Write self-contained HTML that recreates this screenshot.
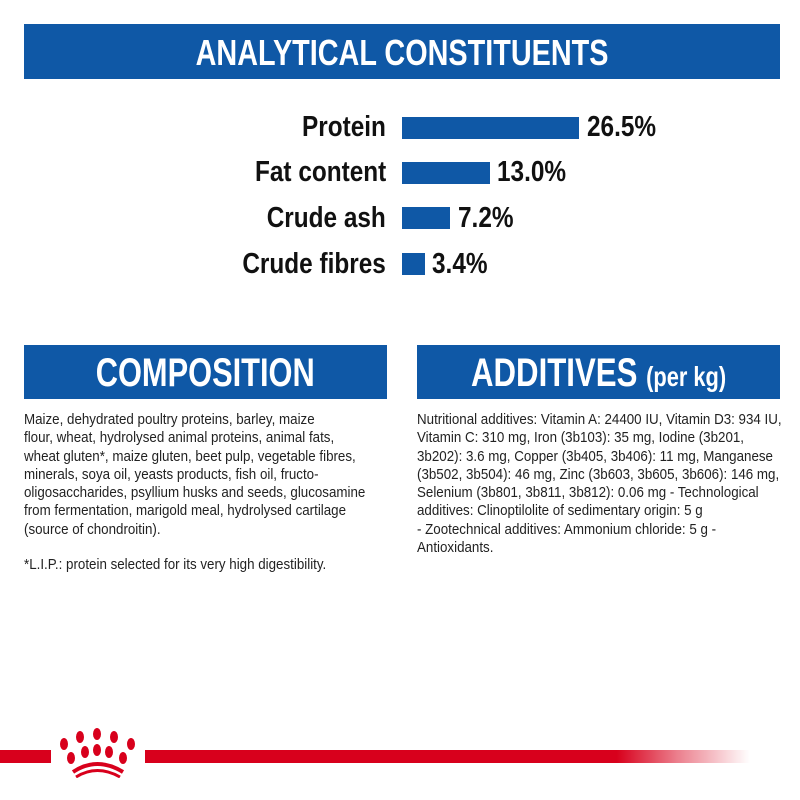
<!DOCTYPE html>
<html><head><meta charset="utf-8"><style>
body{margin:0;width:800px;height:800px;background:#fff;position:relative;overflow:hidden;font-family:"Liberation Sans",sans-serif;}
.ab{position:absolute}
.ban{position:absolute;background:#0f58a6;color:#fff;font-weight:bold;text-align:center;white-space:nowrap}
.sx{display:inline-block;transform:scaleX(0.8);transform-origin:center}
.lab{position:absolute;right:414px;font-weight:bold;font-size:29px;color:#111;white-space:nowrap;transform:scaleX(0.84);transform-origin:right center;line-height:29px}
.val{position:absolute;font-weight:bold;font-size:29px;color:#111;white-space:nowrap;transform:scaleX(0.84);transform-origin:left center;line-height:29px}
.bar{position:absolute;left:402px;background:#0f58a6;height:22px}
.txt{position:absolute;font-size:15px;line-height:18.3px;color:#222;white-space:nowrap}
.txt div{transform:scaleX(0.89);transform-origin:left center}
</style></head><body>
<div class="ban" style="left:24px;top:24px;width:756px;height:55px;line-height:57px;font-size:36px"><span class="sx">ANALYTICAL CONSTITUENTS</span></div>

<div class="lab" style="top:113px">Protein</div>
<div class="bar" style="top:117px;width:177px"></div>
<div class="val" style="left:587px;top:113px">26.5%</div>

<div class="lab" style="top:158px">Fat content</div>
<div class="bar" style="top:162px;width:88px"></div>
<div class="val" style="left:497px;top:158px">13.0%</div>

<div class="lab" style="top:204px">Crude ash</div>
<div class="bar" style="top:207px;width:48px"></div>
<div class="val" style="left:458px;top:204px">7.2%</div>

<div class="lab" style="top:250px">Crude fibres</div>
<div class="bar" style="top:253px;width:23px"></div>
<div class="val" style="left:432px;top:250px">3.4%</div>

<div class="ban" style="left:24px;top:345px;width:363px;height:54px;line-height:56px;font-size:40px"><span class="sx" style="transform:scaleX(0.77)">COMPOSITION</span></div>
<div class="ban" style="left:417px;top:345px;width:363px;height:54px;line-height:56px;font-size:40px"><span class="sx" style="transform:scaleX(0.78)">ADDITIVES <span style="font-size:28px">(per kg)</span></span></div>

<div class="txt" style="left:24px;top:411px">
<div>Maize, dehydrated poultry proteins, barley, maize</div>
<div>flour, wheat, hydrolysed animal proteins, animal fats,</div>
<div>wheat gluten*, maize gluten, beet pulp, vegetable fibres,</div>
<div>minerals, soya oil, yeasts products, fish oil, fructo-</div>
<div>oligosaccharides, psyllium husks and seeds, glucosamine</div>
<div>from fermentation, marigold meal, hydrolysed cartilage</div>
<div>(source of chondroitin).</div>
</div>
<div class="txt" style="left:24px;top:556px"><div>*L.I.P.: protein selected for its very high digestibility.</div></div>

<div class="txt" style="left:417px;top:411px">
<div>Nutritional additives: Vitamin A: 24400 IU, Vitamin D3: 934 IU,</div>
<div>Vitamin C: 310 mg, Iron (3b103): 35 mg, Iodine (3b201,</div>
<div>3b202): 3.6 mg, Copper (3b405, 3b406): 11 mg, Manganese</div>
<div>(3b502, 3b504): 46 mg, Zinc (3b603, 3b605, 3b606): 146 mg,</div>
<div>Selenium (3b801, 3b811, 3b812): 0.06 mg - Technological</div>
<div>additives: Clinoptilolite of sedimentary origin: 5 g</div>
<div>- Zootechnical additives: Ammonium chloride: 5 g -</div>
<div>Antioxidants.</div>
</div>

<div class="ab" style="left:0;top:750px;width:51px;height:13px;background:#d8001c"></div>
<div class="ab" style="left:145px;top:750px;width:605px;height:13px;background:linear-gradient(to right,#d8001c 0%,#d8001c 78%,rgba(216,0,28,0.5) 88%,rgba(216,0,28,0) 100%)"></div>
<svg class="ab" style="left:50px;top:728px" width="100" height="50" viewBox="0 0 100 50">
<g fill="#d8001c">
<ellipse cx="14" cy="16" rx="4" ry="6"/>
<ellipse cx="30" cy="9" rx="4" ry="6"/>
<ellipse cx="47" cy="6" rx="4" ry="6"/>
<ellipse cx="64" cy="9" rx="4" ry="6"/>
<ellipse cx="81" cy="16" rx="4" ry="6"/>
<ellipse cx="21" cy="30" rx="4" ry="6"/>
<ellipse cx="35" cy="24" rx="4" ry="6"/>
<ellipse cx="47" cy="22" rx="4" ry="6"/>
<ellipse cx="59" cy="24" rx="4" ry="6"/>
<ellipse cx="73" cy="30" rx="4" ry="6"/>
</g>
<path d="M23 44 Q47 28 73 44" stroke="#d8001c" stroke-width="4" fill="none"/>
<path d="M26 49 Q47 36 70 49" stroke="#d8001c" stroke-width="3" fill="none"/>
</svg>
</body></html>
